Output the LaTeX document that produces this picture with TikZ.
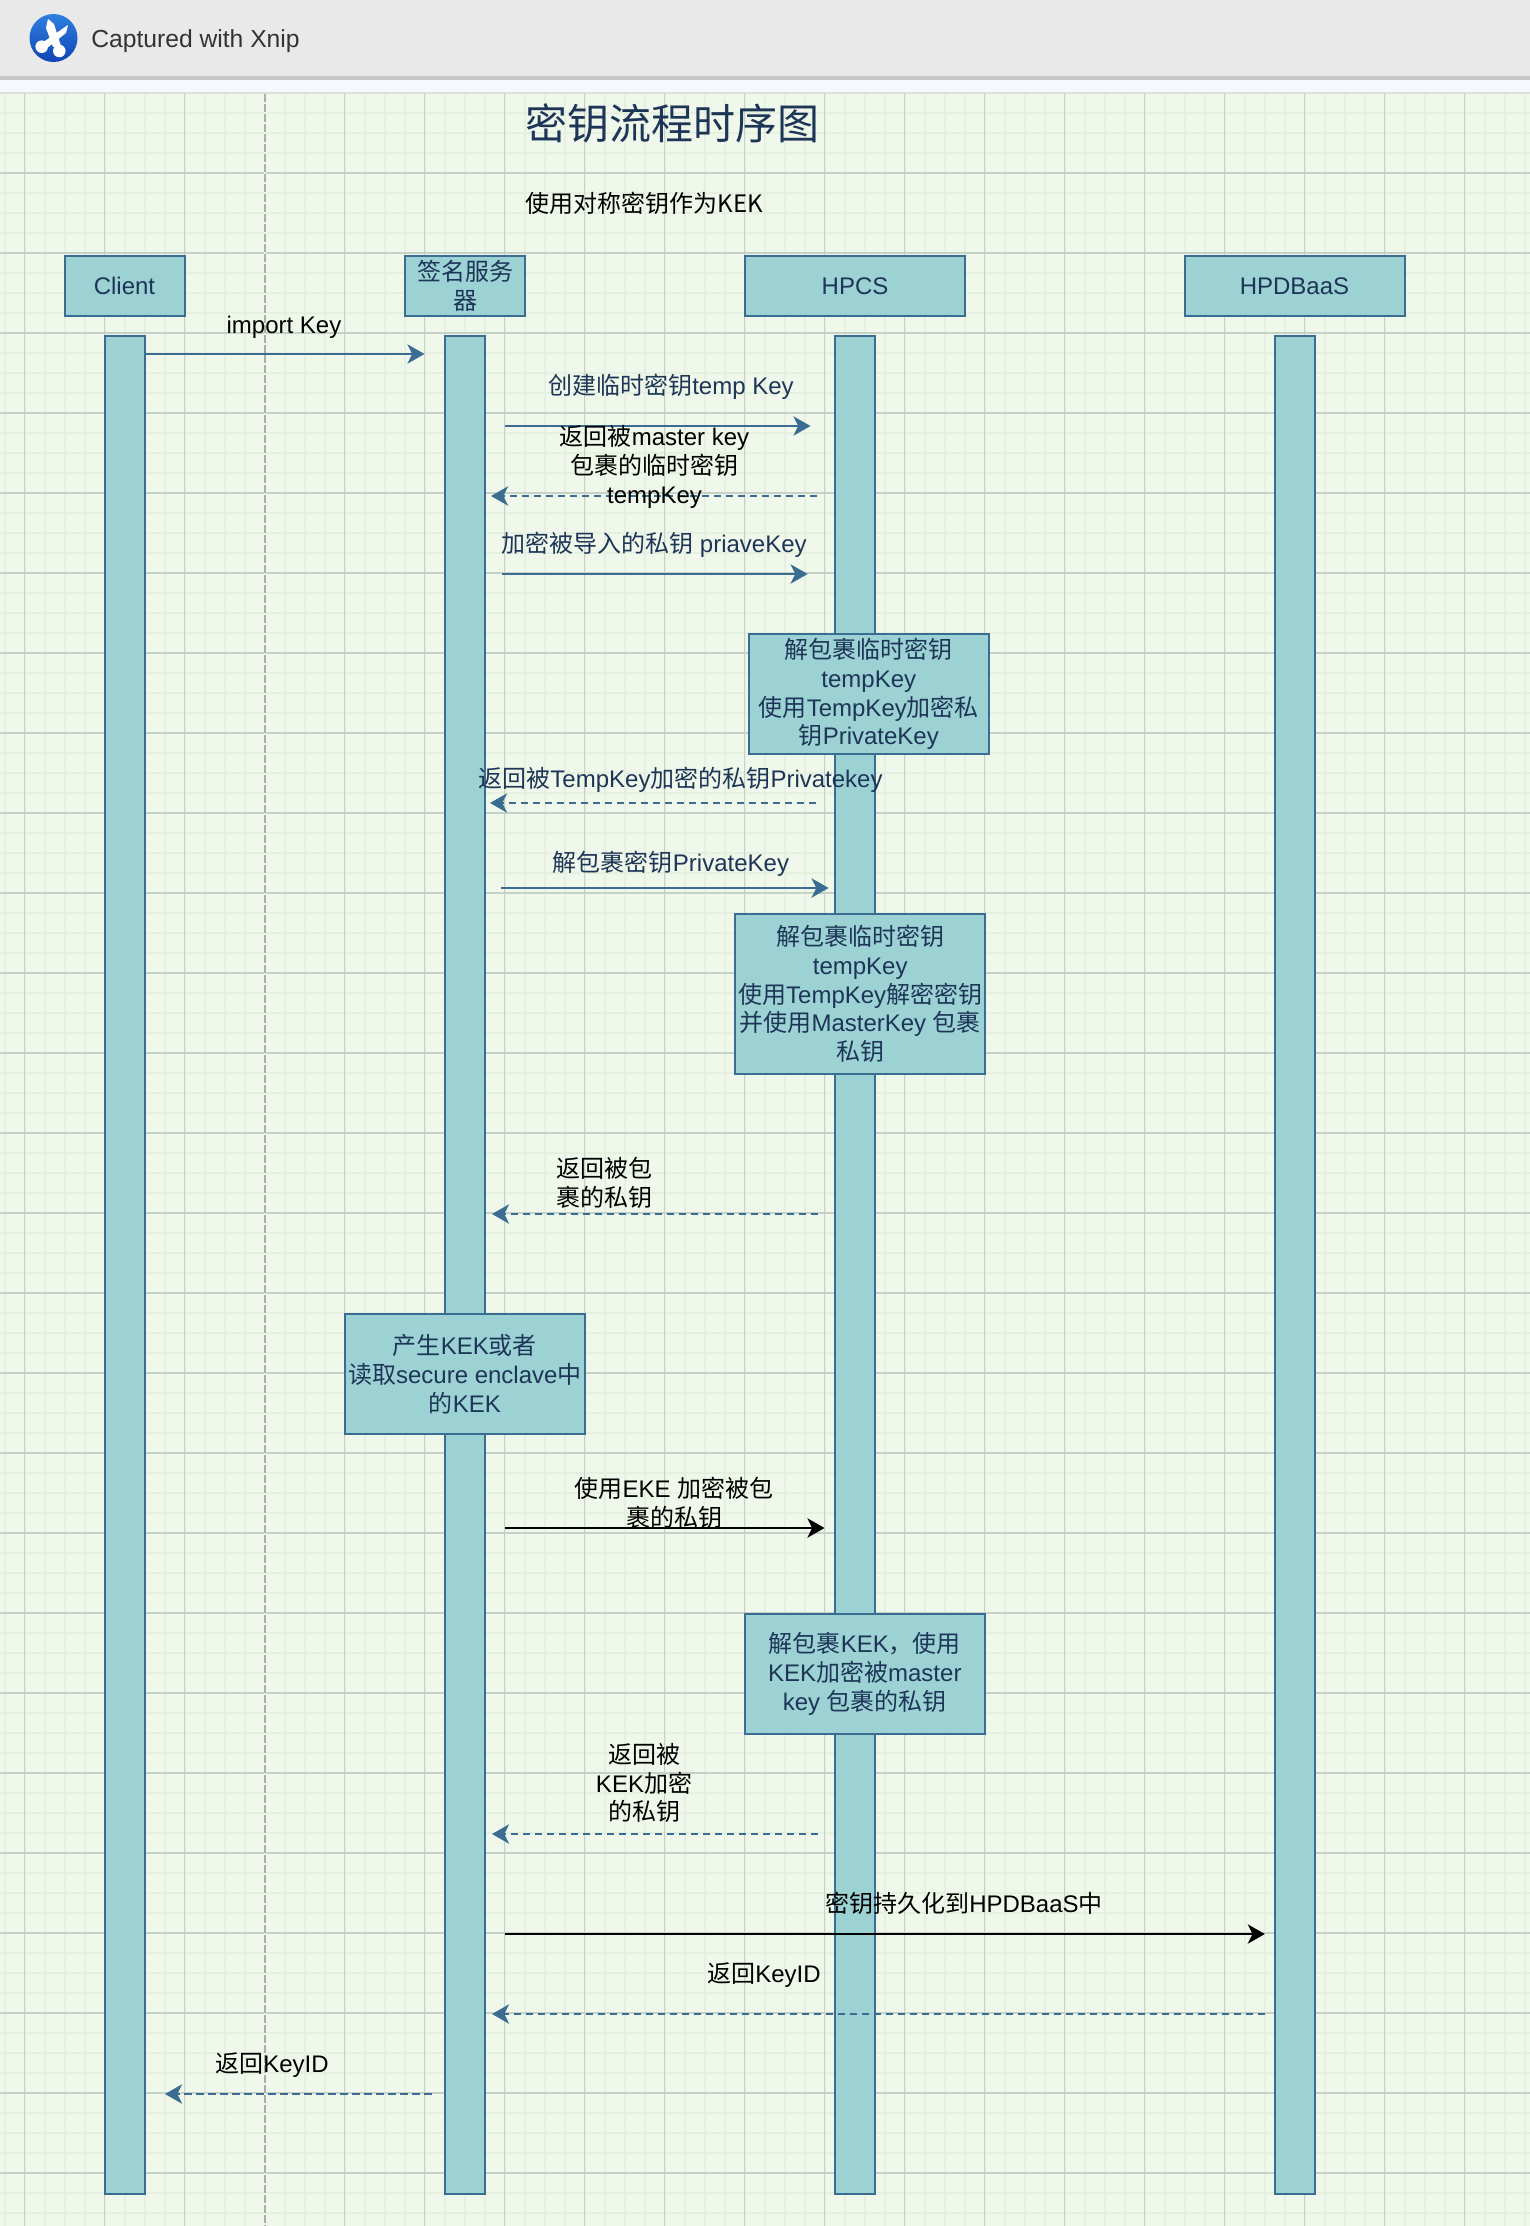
\documentclass[tikz,border=0pt]{standalone}
\usepackage{fontspec}
\setmainfont{Liberation Sans}
\newfontfamily\cjk{Noto Sans CJK SC}
\newcommand{\zh}[1]{{\cjk #1}}
\usetikzlibrary{arrows.meta}
\definecolor{bgc}{HTML}{EFF8EA}
\definecolor{minorc}{HTML}{E6F0E1}
\definecolor{majorc}{HTML}{C6D1C8}
\definecolor{boxfill}{HTML}{9CD2D4}
\definecolor{boxline}{HTML}{3B6C91}
\definecolor{navy}{HTML}{1D3557}
\definecolor{logotop}{HTML}{2F7FE0}
\definecolor{logobot}{HTML}{0F45B5}
\tikzset{
  x=0.75pt,y=-0.75pt,
  boxnode/.style={draw=boxline,fill=boxfill,line width=1.5pt,text=navy,inner sep=0pt,align=center,
    font=\fontsize{18pt}{21.6pt}\selectfont},
  wd/.style={minimum width=#1*0.75pt},
  ht/.style={minimum height=#1*0.75pt},
  lbl/.style={inner sep=0pt,align=center,text=navy,font=\fontsize{18pt}{21.6pt}\selectfont},
  lblk/.style={lbl,text=black},
  msg/.style={draw=boxline,line width=1.5pt,-{Stealth[length=12.8pt,width=14.5pt,inset=3.6pt]}},
  ret/.style={msg,dash pattern=on 5.4pt off 3.6pt},
  msgk/.style={msg,draw=black,fill=black},
}
\begin{document}
\begin{tikzpicture}
\useasboundingbox (0,0) rectangle (1530,2226);
% window chrome
\fill[white!92!blue!40!white] (0,0) rectangle (1530,95);
\fill[black!8.5] (0,0) rectangle (1530,76);
\fill[black!22] (0,76) rectangle (1530,80);
\fill[black!13] (0,92) rectangle (1530,94.5);
% logo
\shade[top color=logotop,bottom color=logobot] (53.5,38) circle (24);
\fill[white] (48,19) -- (54,24) -- (61,46) -- (53,47) -- (46,28) -- cycle;
\fill[white] (68,25) -- (66,33) -- (46,49) -- (42,43) -- cycle;
\fill[white] (41.7,46.7) circle (6.3) (59.3,51) circle (6.3);
\node[anchor=west,inner sep=0pt,text=black!80,font=\fontsize{18.5pt}{22pt}\selectfont] (xnip) at (91,41) {Captured with Xnip};
% grid
\fill[bgc] (0,94.5) rectangle (1530,2226);
\foreach \k in {0,...,76} { \draw[minorc,line width=1.5pt] (4.5+20*\k,94.5) -- (4.5+20*\k,2226); }
\foreach \k in {0,...,106} { \draw[minorc,line width=1.5pt] (0,113+20*\k) -- (1530,113+20*\k); }
\foreach \k in {0,...,19} { \draw[majorc,line width=1pt] (24.5+80*\k,94.5) -- (24.5+80*\k,2226); }
\foreach \k in {1,...,26} { \draw[majorc,line width=1pt] (0,93+80*\k) -- (1530,93+80*\k); }
\fill[bgc] (263.5,94.5) rectangle (265.8,2226);
\draw[black!32,line width=1.1pt,dash pattern=on 6pt off 1.5pt] (264.8,94.5) -- (264.8,2226);
% title
\node[lbl,font=\fontsize{31.5pt}{36pt}\selectfont] (title) at (672,123) {\zh{密钥流程时序图}};
\node[lblk] (sub) at (644.5,203) {\zh{使用对称密钥作为KEK}};
% heads
\node[boxnode,wd=120,ht=60] (client) at (124.5,286) {Client};
\node[boxnode,wd=120,ht=60] (signer) at (465,286) {\zh{签名服务}\\\zh{器}};
\node[boxnode,wd=220,ht=60] (hpcs) at (855,286) {HPCS};
\node[boxnode,wd=220,ht=60] (hpdb) at (1294.5,286) {HPDBaaS};
% bars
\node[boxnode,wd=40,ht=1858] (barA) at (125,1265) {};
\node[boxnode,wd=40,ht=1858] (barB) at (465,1265) {};
\node[boxnode,wd=40,ht=1858] (barC) at (855,1265) {};
\node[boxnode,wd=40,ht=1858] (barD) at (1295,1265) {};
% connector ends
\coordinate (e1) at (424.5,354);
\coordinate (s2) at (504.5,426); \coordinate (e2) at (810.5,426);
\coordinate (s3) at (817,496); \coordinate (e3) at (491,496);
\coordinate (s4) at (502,574); \coordinate (e4) at (807.6,574);
\coordinate (s5) at (816,803); \coordinate (e5) at (490,803);
\coordinate (s6) at (501,888); \coordinate (e6) at (828.6,888);
\coordinate (s7) at (818,1214); \coordinate (e7) at (492,1214);
\coordinate (s8) at (504.8,1528); \coordinate (e8) at (824.5,1528);
\coordinate (s9) at (818,1834); \coordinate (e9) at (492,1834);
\coordinate (s10) at (505,1934); \coordinate (e10) at (1264.8,1934);
\coordinate (s11) at (1265,2014); \coordinate (e11) at (492,2014);
\coordinate (s12) at (431.6,2094); \coordinate (e12) at (165,2094);
\draw[msg] (barA.east |- e1) -- (e1);
\draw[msg] (s2) -- (e2);
\draw[ret] (s3) -- (e3);
\draw[msg] (s4) -- (e4);
\draw[ret] (s5) -- (e5);
\draw[msg] (s6) -- (e6);
\draw[ret] (s7) -- (e7);
\draw[msgk] (s8) -- (e8);
\draw[ret] (s9) -- (e9);
\draw[msgk] (s10) -- (e10);
\draw[ret] (s11) -- (e11);
\draw[ret] (s12) -- (e12);
% notes
\node[boxnode,wd=240.5,ht=120.5] (n1) at (868.8,694) {\zh{解包裹临时密钥}\\tempKey\\\zh{使用}TempKey\zh{加密私}\\\zh{钥}PrivateKey};
\node[boxnode,wd=250.5,ht=160.5] (n2) at (860.2,994) {\zh{解包裹临时密钥}\\tempKey\\\zh{使用}TempKey\zh{解密密钥}\\\zh{并使用}MasterKey \zh{包裹}\\\zh{私钥}};
\node[boxnode,wd=240.5,ht=120.5] (n3) at (464.8,1374) {\zh{产生}KEK\zh{或者}\\\zh{读取}secure enclave\zh{中}\\\zh{的}KEK};
\node[boxnode,wd=240.5,ht=120.5] (n4) at (864.8,1674) {\zh{解包裹}KEK\zh{，使用}\\KEK\zh{加密被}master\\key \zh{包裹的私钥}};
% labels
\node[lblk] (l1) at (284,327) {import Key};
\node[lbl] (l2) at (671,387) {\zh{创建临时密钥}temp Key};
\node[lblk] (l3) at (654.5,467) {\zh{返回被}master key\\\zh{包裹的临时密钥}\\tempKey};
\node[lbl] (l4) at (654,545) {\zh{加密被导入的私钥} priaveKey};
\node[lbl] (l5) at (680.5,780) {\zh{返回被}TempKey\zh{加密的私钥}Privatekey};
\node[lbl] (l6) at (671,864) {\zh{解包裹密钥}PrivateKey};
\node[lblk] (l7) at (604,1182.5) {\zh{返回被包}\\\zh{裹的私钥}};
\node[lblk] (l8) at (674,1503) {\zh{使用}EKE \zh{加密被包}\\\zh{裹的私钥}};
\node[lblk] (l9) at (644,1783) {\zh{返回被}\\KEK\zh{加密}\\\zh{的私钥}};
\node[lblk] (l10) at (964,1903) {\zh{密钥持久化到}HPDBaaS\zh{中}};
\node[lblk] (l11) at (764,1975) {\zh{返回}KeyID};
\node[lblk] (l12) at (272,2065) {\zh{返回}KeyID};
\end{tikzpicture}
\end{document}
